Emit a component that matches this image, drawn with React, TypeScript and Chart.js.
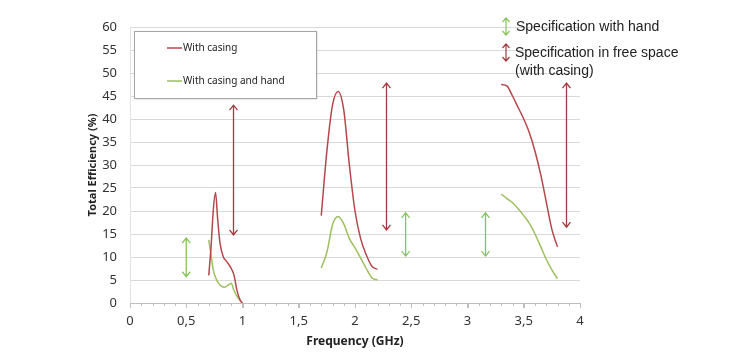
import React, { useEffect, useRef } from "react";
import { Chart, registerables } from "chart.js";

Chart.register(...registerables);

// ---- Data ----
const casingX1 = [0.70, 0.72, 0.74, 0.76, 0.78, 0.80, 0.83, 0.86, 0.90, 0.925, 0.95, 0.98, 1.00];
const casingY1 = [6, 12, 20, 24, 18, 13, 10, 9, 7.5, 6, 2.8, 0.6, 0];
const casingX2 = [1.70, 1.75, 1.80, 1.85, 1.90, 1.95, 2.00, 2.05, 2.10, 2.15, 2.20];
const casingY2 = [19, 33, 43, 46, 42, 30, 20, 14, 10.5, 8, 7.3];
const casingX3 = [3.30, 3.35, 3.40, 3.45, 3.50, 3.55, 3.60, 3.65, 3.70, 3.75, 3.80];
const casingY3 = [47.5, 47.2, 45, 42.5, 40, 37, 33, 28, 22, 16, 12.2];

const handX1 = [0.70, 0.72, 0.74, 0.77, 0.80, 0.84, 0.88, 0.90, 0.92, 0.95, 0.98, 1.00];
const handY1 = [13.7, 10.5, 7.2, 5, 3.9, 3.4, 4, 4.3, 3, 1.5, 0.5, 0];
const handX2 = [1.70, 1.75, 1.80, 1.85, 1.90, 1.95, 2.00, 2.05, 2.10, 2.15, 2.20];
const handY2 = [7.6, 11, 17, 18.8, 17.2, 14, 12, 9.8, 7.5, 5.5, 5];
const handX3 = [3.30, 3.35, 3.40, 3.45, 3.50, 3.55, 3.60, 3.65, 3.70, 3.75, 3.80];
const handY3 = [23.7, 22.7, 21.8, 20.5, 19, 17.3, 15, 12.3, 9.5, 7.2, 5.3];

const freeSpaceArrowX = [0.92, 2.28, 3.88];
const freeSpaceArrowLow = [14.8, 15.9, 16.5];
const freeSpaceArrowHigh = [43, 47.8, 47.8];
const handArrowX = [0.5, 2.45, 3.16];
const handArrowLow = [5.7, 10.2, 10.2];
const handArrowHigh = [14.1, 19.6, 19.6];

const seriesLabels = ["With casing", "With casing and hand"];
const specLabels = ["Specification with hand", "Specification in free space", "(with casing)"];

const RED = "#b5474b";
const GREEN = "#9dbf5e";
const ARROW_RED = "#a33a40";
const ARROW_GREEN = "#86c35a";

function segs(xs: number[][], ys: number[][]) {
  const out: { x: number; y: number | null }[] = [];
  xs.forEach((arr, i) => {
    if (i > 0) out.push({ x: (xs[i - 1][xs[i - 1].length - 1] + arr[0]) / 2, y: null });
    arr.forEach((x, j) => out.push({ x, y: ys[i][j] }));
  });
  return out;
}

function drawVArrow(ctx: CanvasRenderingContext2D, x: number, y1: number, y2: number, color: string, head = 5, w = 4, lw = 1.3) {
  ctx.save();
  ctx.strokeStyle = color;
  ctx.lineWidth = lw;
  ctx.beginPath();
  ctx.moveTo(x, y1);
  ctx.lineTo(x, y2);
  ctx.moveTo(x - w, y1 + head);
  ctx.lineTo(x, y1);
  ctx.lineTo(x + w, y1 + head);
  ctx.moveTo(x - w, y2 - head);
  ctx.lineTo(x, y2);
  ctx.lineTo(x + w, y2 - head);
  ctx.stroke();
  ctx.restore();
}

const decorPlugin = {
  id: "decor",
  afterDraw(chart: any) {
    const { ctx, scales } = chart;
    const xs = scales.x;
    const ys = scales.y;
    // minor ticks on x axis
    ctx.save();
    ctx.strokeStyle = "#bfbfbf";
    ctx.lineWidth = 1;
    const yb = ys.getPixelForValue(0);
    for (let i = 0; i <= 40; i++) {
      const px = Math.round(xs.getPixelForValue(i / 10)) + 0.5;
      const len = i % 5 === 0 ? 5 : 3;
      ctx.beginPath();
      ctx.moveTo(px, yb);
      ctx.lineTo(px, yb + len);
      ctx.stroke();
    }
    ctx.restore();

    // spec arrows
    freeSpaceArrowX.forEach((v, i) => {
      drawVArrow(ctx, xs.getPixelForValue(v), ys.getPixelForValue(freeSpaceArrowHigh[i]), ys.getPixelForValue(freeSpaceArrowLow[i]), ARROW_RED);
    });
    handArrowX.forEach((v, i) => {
      drawVArrow(ctx, xs.getPixelForValue(v), ys.getPixelForValue(handArrowHigh[i]), ys.getPixelForValue(handArrowLow[i]), ARROW_GREEN);
    });

    // legend box
    ctx.save();
    ctx.fillStyle = "#ffffff";
    ctx.shadowColor = "rgba(0,0,0,0.25)";
    ctx.shadowBlur = 2;
    ctx.shadowOffsetX = 1;
    ctx.shadowOffsetY = 1;
    ctx.fillRect(134, 31, 182, 67);
    ctx.restore();
    ctx.save();
    ctx.strokeStyle = "#a6a6a6";
    ctx.lineWidth = 1;
    ctx.strokeRect(134.5, 31.5, 182, 67);
    ctx.font = "10px 'Noto Sans'";
    ctx.textBaseline = "middle";
    ctx.fillStyle = "#222";
    const items = [
      { c: RED, y: 48 },
      { c: GREEN, y: 81 },
    ];
    items.forEach((it, i) => {
      ctx.strokeStyle = it.c;
      ctx.lineWidth = 1.5;
      ctx.beginPath();
      ctx.moveTo(167, it.y);
      ctx.lineTo(182, it.y);
      ctx.stroke();
      ctx.fillText(seriesLabels[i], 183, it.y);
    });
    ctx.restore();

    // spec legend (top right)
    drawVArrow(ctx, 506, 18, 35, ARROW_GREEN, 4, 3.5, 1.2);
    drawVArrow(ctx, 506, 44, 61, ARROW_RED, 4, 3.5, 1.2);
    ctx.save();
    ctx.font = "14px 'Liberation Sans'";
    ctx.fillStyle = "#222";
    ctx.textBaseline = "middle";
    ctx.fillText(specLabels[0], 516, 27);
    ctx.fillText(specLabels[1], 515, 53);
    ctx.fillText(specLabels[2], 515, 71);
    ctx.restore();
  },
};

export default function App() {
  const ref = useRef<HTMLCanvasElement | null>(null);
  useEffect(() => {
    document.body.style.margin = "0";
    if (!ref.current) return;
    const chart = new Chart(ref.current, {
      type: "line",
      data: {
        datasets: [
          {
            label: seriesLabels[0],
            data: segs([casingX1, casingX2, casingX3], [casingY1, casingY2, casingY3]) as any,
            borderColor: RED,
            borderWidth: 1.5,
            pointRadius: 0,
            cubicInterpolationMode: "monotone",
            spanGaps: false,
          },
          {
            label: seriesLabels[1],
            data: segs([handX1, handX2, handX3], [handY1, handY2, handY3]) as any,
            borderColor: GREEN,
            borderWidth: 1.5,
            pointRadius: 0,
            cubicInterpolationMode: "monotone",
            spanGaps: false,
          },
        ],
      },
      options: {
        animation: false,
        responsive: false,
        maintainAspectRatio: false,
        layout: { padding: { left: 86, right: 156, top: 27, bottom: 15 } },
        plugins: { legend: { display: false }, tooltip: { enabled: false } },
        scales: {
          x: {
            type: "linear",
            min: 0,
            max: 4,
            ticks: {
              stepSize: 0.5,
              maxRotation: 0,
              autoSkip: false,
              color: "#333",
              font: { family: "'Noto Sans'", size: 13 },
              padding: 5,
              callback: (v: any) => String(v).replace(".", ","),
            },
            grid: { drawOnChartArea: false, drawTicks: true, tickLength: 5, color: "#bfbfbf" },
            border: { display: true, color: "#bfbfbf" },
            title: {
              display: true,
              text: "Frequency (GHz)",
              color: "#222",
              font: { family: "'Noto Sans'", size: 12, weight: "bold" },
              padding: { top: 2, bottom: 0 },
            },
            afterFit: (s: any) => { s.height = 46; },
          },
          y: {
            min: 0,
            max: 60,
            ticks: {
              stepSize: 5,
              color: "#333",
              font: { family: "'Noto Sans'", size: 13 },
              padding: 13,
            },
            grid: { color: "#d9d9d9", drawTicks: false },
            border: { display: true, color: "#e3e3e3" },
            title: {
              display: true,
              text: "Total Efficiency (%)",
              color: "#222",
              font: { family: "'Noto Sans'", size: 11, weight: "bold" },
              padding: { top: 0, bottom: 0 },
            },
            afterFit: (s: any) => { s.width = 44; },
          },
        },
      },
      plugins: [decorPlugin],
    });
    return () => chart.destroy();
  }, []);
  return (
    <div style={{ width: 736, height: 364, background: "#fff" }}>
      <canvas ref={ref} width={736} height={364} />
    </div>
  );
}
